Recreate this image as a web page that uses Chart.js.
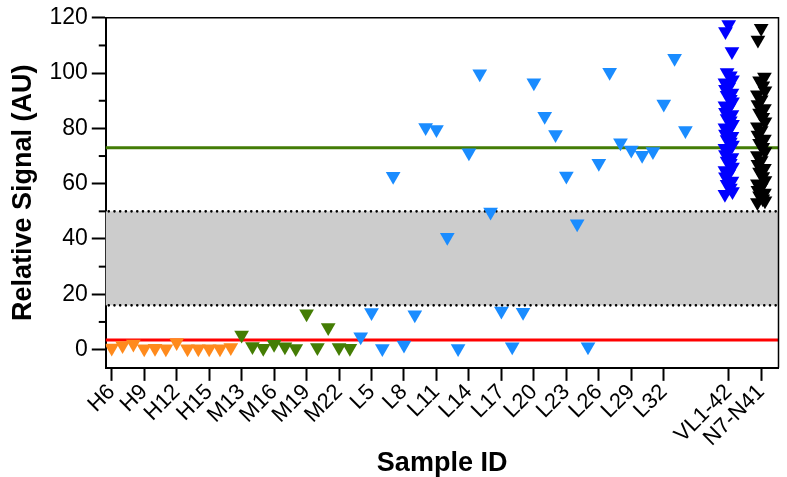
<!DOCTYPE html>
<html>
<head>
<meta charset="utf-8">
<script src="https://cdn.jsdelivr.net/npm/chart.js@4"></script>
<style>
  html, body { margin: 0; padding: 0; background: #fff; }
  #wrap { width: 787px; height: 477px; }
</style>
</head>
<body>
<div id="wrap"><canvas id="graph"></canvas></div>
<script>
// sample groups
const hLabels = ['H6', 'H7', 'H8', 'H9', 'H10', 'H11', 'H12', 'H13', 'H14', 'H15', 'H16', 'H17'];
const hValues = [0.6, 1.5, 2, 0.3, 0.5, 0.3, 2.6, 0.3, 0.3, 0.3, 0.3, 0.8];

const mLabels = ['M13', 'M14', 'M15', 'M16', 'M17', 'M18', 'M19', 'M20', 'M21', 'M22', 'M23'];
const mValues = [5.3, 1.1, 0.5, 1.9, 1, 0.4, 13, 0.8, 8, 0.8, 0.5];

const lLabels = ['L4', 'L5', 'L6', 'L7', 'L8', 'L9', 'L10', 'L11', 'L12', 'L13', 'L14', 'L15',
  'L16', 'L17', 'L18', 'L19', 'L20', 'L21', 'L22', 'L23', 'L24', 'L25', 'L26', 'L27', 'L28',
  'L29', 'L30', 'L31', 'L32', 'L33', 'L34'];
const lValues = [4.6, 13.4, 0.4, 62.7, 1.7, 12.6, 80.3, 79.6, 40.6, 0.4, 71.2, 99.8, 49.8,
  14, 1, 13.5, 96.5, 84.4, 77.8, 62.8, 45.5, 1, 67.4, 100.3, 74.8, 72.2, 70.3, 71.6, 88.8,
  105.4, 79.2];

const vlLabel = 'VL1-42';
const vlValues = [117.6, 115, 107.8, 100.2, 99, 97.6, 96.5, 95, 94.2, 92.8, 92, 90.5, 89.6,
  88.2, 87.4, 85.8, 85, 83.6, 82.8, 81.5, 80.2, 79.4, 78, 77.2, 76, 75.1, 74, 72.8, 72,
  70.6, 69.5, 68.2, 67.4, 66, 64.8, 63.6, 62.5, 61, 59.8, 58.4, 57.2, 56.2];

const nLabel = 'N7-N41';
const nValues = [116.2, 112, 98.6, 97.2, 95.4, 93.6, 92.2, 90.4, 88.6, 87.2, 85.6, 84, 82.4,
  80.6, 79.2, 77.6, 76.2, 74.6, 73.2, 71.6, 70.2, 68.4, 67, 65.6, 64.2, 62.6, 61.2, 60, 58.8,
  57.6, 56.6, 55.6, 54.6, 53.8, 53.2];

const yTicks = [0, 20, 40, 60, 80, 100, 120];
const yMinor = [10, 30, 50, 70, 90, 110];
const cutoffHigh = 73;
const cutoffLow = 3.5;
const grayZone = [16, 50];

// category positions along x (gaps before the two pooled columns)
const categories = [...hLabels, ...mLabels, ...lLabels, '', '', '', vlLabel, '', '', nLabel];
const vlPos = categories.indexOf(vlLabel);
const nPos = categories.indexOf(nLabel);
const xTickPos = [];
for (let i = 0; i < hLabels.length + mLabels.length + lLabels.length; i += 3) xTickPos.push(i);
xTickPos.push(vlPos, nPos);

const jitter = [0, -0.3, 0.3, -0.15, 0.15, 0.35, -0.35];
const asPoints = (vals, start) => vals.map((v, i) => ({ x: start + i, y: v }));
const asColumn = (vals, pos) => vals.map((v, i) => ({ x: pos + jitter[i % jitter.length], y: v }));

const tri = (color, data) => ({
  data: data,
  backgroundColor: color,
  borderWidth: 0,
  pointStyle: 'triangle',
  rotation: 180,
  pointRadius: 8.5,
  pointHoverRadius: 8.5,
});

const refLines = {
  id: 'refLines',
  beforeDatasetsDraw(chart) {
    const { ctx, chartArea: a, scales: { y } } = chart;
    const top = y.getPixelForValue(grayZone[1]);
    const bot = y.getPixelForValue(grayZone[0]);
    ctx.save();
    ctx.fillStyle = '#cccccc';
    ctx.fillRect(a.left, top, a.right - a.left, bot - top);
    ctx.strokeStyle = '#000';
    ctx.lineWidth = 2.6;
    ctx.lineCap = 'round';
    ctx.setLineDash([0, 5.7]);
    [top, bot].forEach(py => {
      ctx.beginPath();
      ctx.moveTo(a.left + 3, py);
      ctx.lineTo(a.right, py);
      ctx.stroke();
    });
    ctx.setLineDash([]);
    ctx.lineCap = 'butt';
    ctx.lineWidth = 3;
    [[cutoffLow, '#ff0000'], [cutoffHigh, '#437c06']].forEach(([v, c]) => {
      const py = y.getPixelForValue(v);
      ctx.strokeStyle = c;
      ctx.beginPath();
      ctx.moveTo(a.left, py);
      ctx.lineTo(a.right, py);
      ctx.stroke();
    });
    ctx.restore();
  },
  afterDraw(chart) {
    const { ctx, chartArea: a, scales: { y } } = chart;
    ctx.save();
    ctx.strokeStyle = '#000';
    ctx.lineWidth = 2;
    yMinor.forEach(v => {
      const py = y.getPixelForValue(v);
      ctx.beginPath();
      ctx.moveTo(a.left - 7, py);
      ctx.lineTo(a.left, py);
      ctx.stroke();
    });
    ctx.lineWidth = 1.5;
    ctx.beginPath();
    ctx.moveTo(a.left, a.top);
    ctx.lineTo(a.right, a.top);
    ctx.lineTo(a.right, a.bottom);
    ctx.stroke();
    ctx.restore();
  }
};

const graph = document.getElementById('graph').getContext('2d');

let myChart = new Chart(graph, {
  type: 'scatter',
  data: {
    datasets: [
      tri('#ff8a1c', asPoints(hValues, 0)),
      tri('#447d04', asPoints(mValues, hLabels.length)),
      tri('#1a8cff', asPoints(lValues, hLabels.length + mLabels.length)),
      tri('#0000ff', asColumn(vlValues, vlPos)),
      tri('#000000', asColumn(nValues, nPos)),
    ],
  },
  options: {
    responsive: true,
    maintainAspectRatio: false,
    animation: false,
    events: [],
    layout: { padding: { left: 7, right: 4, top: 6, bottom: 0 } },
    plugins: {
      legend: { display: false },
      tooltip: { enabled: false },
    },
    scales: {
      x: {
        type: 'linear',
        min: -0.55,
        max: 61.6,
        afterBuildTicks: scale => { scale.ticks = xTickPos.map(v => ({ value: v })); },
        ticks: {
          autoSkip: false,
          minRotation: 45,
          maxRotation: 45,
          padding: 0,
          color: '#000',
          font: { family: 'Liberation Sans, Arial, sans-serif', size: 22, lineHeight: 1 },
          callback: v => categories[v],
        },
        grid: { drawOnChartArea: false, drawTicks: true, tickLength: 13, tickWidth: 2, tickColor: '#000' },
        border: { color: '#000', width: 2 },
        title: {
          display: true,
          text: 'Sample ID',
          color: '#000',
          padding: { top: 0, bottom: 0 },
          font: { family: 'Liberation Sans, Arial, sans-serif', size: 27, weight: 'bold', lineHeight: 1 },
        },
      },
      y: {
        min: -6.6,
        max: 120,
        afterBuildTicks: scale => { scale.ticks = yTicks.map(v => ({ value: v })); },
        ticks: {
          padding: 4,
          color: '#000',
          font: { family: 'Liberation Sans, Arial, sans-serif', size: 23 },
        },
        grid: { drawOnChartArea: false, drawTicks: true, tickLength: 14, tickWidth: 2, tickColor: '#000' },
        border: { color: '#000', width: 2 },
        title: {
          display: true,
          text: 'Relative Signal (AU)',
          color: '#000',
          padding: { top: 0, bottom: 6 },
          font: { family: 'Liberation Sans, Arial, sans-serif', size: 27, weight: 'bold' },
        },
      },
    },
  },
  plugins: [refLines],
});
</script>
</body>
</html>
